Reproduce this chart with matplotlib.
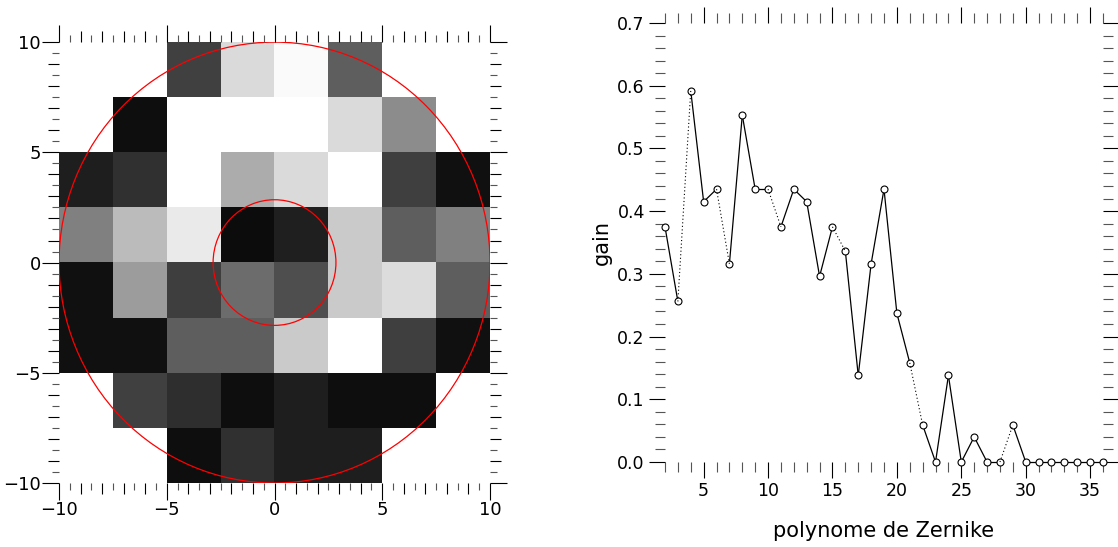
import matplotlib
matplotlib.use("Agg")
import matplotlib.pyplot as plt
import numpy as np
from matplotlib.patches import Circle
from matplotlib.ticker import MultipleLocator, FixedLocator, FuncFormatter

plt.rcParams['font.family'] = ['DejaVu Sans']

# 8x8 grey levels (0-255), top row first, cells of 2.5 units over [-10, 10]
ROW_0 = [255, 255, 64, 218, 250, 94, 255, 255]
ROW_1 = [255, 14, 255, 255, 255, 218, 140, 255]
ROW_2 = [30, 48, 255, 172, 218, 255, 63, 16]
ROW_3 = [128, 187, 234, 12, 31, 202, 94, 128]
ROW_4 = [16, 156, 62, 108, 78, 202, 220, 94]
ROW_5 = [16, 16, 94, 94, 202, 255, 63, 16]
ROW_6 = [255, 64, 46, 14, 30, 14, 14, 255]
ROW_7 = [255, 255, 14, 48, 30, 30, 255, 255]
CIRCLE_RADII = [10.0, 2.85]

# gain per Zernike polynomial (index 2..36)
MODES = list(range(2, 37))
GAIN = [0.375, 0.256, 0.592, 0.415, 0.435, 0.316, 0.553, 0.435, 0.435,
        0.375, 0.435, 0.415, 0.296, 0.375, 0.336, 0.138, 0.316, 0.435,
        0.237, 0.158, 0.059, 0.0, 0.138, 0.0, 0.040, 0.0, 0.0, 0.059,
        0.0, 0.0, 0.0, 0.0, 0.0, 0.0, 0.0]
# segments starting at these modes are drawn dotted
DOTTED_FROM = [3, 6, 10, 15, 21, 28]

fig = plt.figure(figsize=(11.18, 5.47), dpi=100)

# ---- left: pupil image ----
ax1 = fig.add_axes([0.0528, 0.117, 0.3855, 0.806])
grid = np.array([ROW_0, ROW_1, ROW_2, ROW_3, ROW_4, ROW_5, ROW_6, ROW_7])
ax1.imshow(grid, cmap="gray", vmin=0, vmax=255, extent=(-10, 10, -10, 10),
           interpolation="nearest", origin="upper", aspect="auto")
for r in CIRCLE_RADII:
    ax1.add_patch(Circle((0, 0), r, fill=False, edgecolor="red", linewidth=0.9))
ax1.set_xlim(-10, 10)
ax1.set_ylim(-10, 10)
# integer ticks as "major" (labels only every 5), half units as minor
for axis in (ax1.xaxis, ax1.yaxis):
    axis.set_major_locator(FixedLocator(np.arange(-10, 11, 1)))
    axis.set_major_formatter(FuncFormatter(
        lambda v, p: ("\u2212%d" % -v if v < 0 else "%d" % v) if round(v) % 5 == 0 else ""))
    axis.set_minor_locator(MultipleLocator(0.5))

# ---- right: gain curve ----
ax2 = fig.add_axes([0.5948, 0.1554, 0.3918, 0.8026])
for i in range(len(MODES) - 1):
    dotted = MODES[i] in DOTTED_FROM
    ax2.plot(MODES[i:i + 2], GAIN[i:i + 2], color="black",
             linestyle=(0, (1, 2.2)) if dotted else "-",
             linewidth=0.8 if dotted else 0.9, zorder=4 if dotted else 2,
             clip_on=False)
ax2.plot(MODES, GAIN, linestyle="none", marker="o", markersize=5,
         markerfacecolor="white", markeredgecolor="black",
         markeredgewidth=0.8, zorder=3, clip_on=False)
ax2.set_xlim(2, 36)
ax2.set_ylim(0, 0.7)
ax2.xaxis.set_major_locator(FixedLocator([5, 10, 15, 20, 25, 30, 35]))
ax2.xaxis.set_minor_locator(MultipleLocator(1))
ax2.yaxis.set_major_locator(MultipleLocator(0.1))
ax2.yaxis.set_minor_locator(MultipleLocator(0.02))
ax2.yaxis.set_major_formatter(plt.FormatStrFormatter("%.1f"))
ax2.set_xlabel("polynome de Zernike", fontsize=15, labelpad=15)
ax2.set_ylabel("gain", fontsize=15, labelpad=4)

for ax in (ax1, ax2):
    for s in ax.spines.values():
        s.set_visible(False)
    ax.tick_params(which="both", direction="out", top=True, right=True,
                   labeltop=False, labelright=False, color="black", width=0.8)

ax1.tick_params(which="major", length=8, labelsize=13, pad=5)
ax1.tick_params(which="minor", length=5, color="#555555")
ax2.tick_params(which="major", length=11.5, labelsize=12.5, pad=3)
ax2.tick_params(which="minor", length=7.5, color="#555555")

# longer ticks at the labelled multiples of 5 on the image
fig.canvas.draw()
for axis in (ax1.xaxis, ax1.yaxis):
    for tick in axis.get_major_ticks():
        if round(tick.get_loc()) % 5 == 0:
            tick.tick1line.set_markersize(12)
            tick.tick2line.set_markersize(12)

fig.savefig("out.png", dpi=100)
